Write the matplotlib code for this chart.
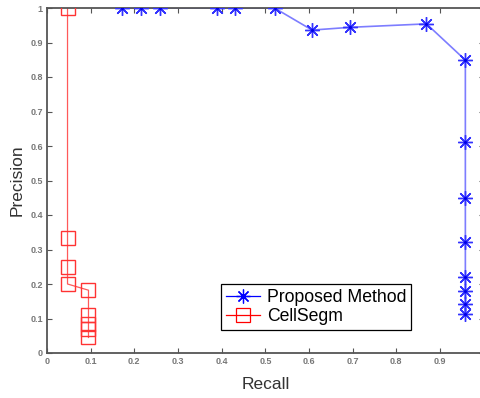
import matplotlib
matplotlib.use("Agg")
import matplotlib.pyplot as plt

plt.rcParams['font.family'] = ['Liberation Sans', 'DejaVu Sans']

proposed_recall = [0.172, 0.215, 0.259, 0.389, 0.430, 0.521, 0.607, 0.694, 0.869,
                   0.958, 0.958, 0.958, 0.958, 0.958, 0.958, 0.958, 0.958]
proposed_precision = [1.0, 1.0, 1.0, 1.0, 1.0, 1.0, 0.936, 0.944, 0.954,
                      0.849, 0.612, 0.450, 0.323, 0.219, 0.181, 0.141, 0.112]

cellsegm_recall = [0.047, 0.047, 0.047, 0.047, 0.095, 0.095, 0.095, 0.095, 0.095]
cellsegm_precision = [1.0, 0.333, 0.25, 0.20, 0.182, 0.111, 0.083, 0.071, 0.045]

xticks = [0, 0.1, 0.2, 0.3, 0.4, 0.5, 0.6, 0.7, 0.8, 0.9]
xticklabels = ['0', '0.1', '0.2', '0.3', '0.4', '0.5', '0.6', '0.7', '0.8', '0.9']
yticks = [0, 0.1, 0.2, 0.3, 0.4, 0.5, 0.6, 0.7, 0.8, 0.9, 1.0]
yticklabels = ['0', '0.1', '0.2', '0.3', '0.4', '0.5', '0.6', '0.7', '0.8', '0.9', '1']

fig = plt.figure(figsize=(4.81, 3.98), dpi=100)
ax = fig.add_axes([47/481, 45/398, 436.7/481, 345/398])

star = (8, 2, 0)

ax.plot(proposed_recall, proposed_precision, color=(0.4, 0.4, 1.0), lw=1.2, alpha=0.85, zorder=2)
ax.plot(proposed_recall, proposed_precision, linestyle='none', marker=star, ms=10.5,
        mec=(0.2, 0.2, 1.0), mew=1.0, zorder=3)
ax.plot(proposed_recall, proposed_precision, linestyle='none', marker='o', ms=2.2,
        mfc=(0, 0, 0.9), mec='none', zorder=4)

ax.plot(cellsegm_recall, cellsegm_precision, color=(1.0, 0.35, 0.35), lw=0.9, zorder=2)
ax.plot(cellsegm_recall, cellsegm_precision, linestyle='none', marker='s', ms=9.5,
        mfc='none', mec=(1.0, 0.2, 0.2), mew=1.0, zorder=3)

h1, = ax.plot([], [], color='blue', lw=0.9, marker=star, ms=10, mew=0.9)
h2, = ax.plot([], [], color='red', lw=0.9, marker='s', ms=9.5, mfc='none', mew=0.9)
leg = ax.legend([h1, h2], ['Proposed Method', 'CellSegm'],
                loc='lower left', bbox_to_anchor=(0.398, 0.066),
                fontsize=12.7, frameon=True, fancybox=False, framealpha=1,
                edgecolor='black', handlelength=1.9, handletextpad=0.4,
                borderpad=0.3, labelspacing=0.12, borderaxespad=0)
leg.get_frame().set_linewidth(0.9)

ax.set_xlim(0, 1)
ax.set_ylim(0, 1)
ax.set_xticks(xticks)
ax.set_xticklabels(xticklabels)
ax.set_yticks(yticks)
ax.set_yticklabels(yticklabels)

gray = '#555555'
for s in ax.spines.values():
    s.set_color(gray)
    s.set_linewidth(1.3)
ax.tick_params(direction='in', length=3.5, width=0.8, colors=gray, labelsize=6.5,
               top=True, right=True, pad=3)
for lbl in ax.get_xticklabels() + ax.get_yticklabels():
    lbl.set_fontweight('bold')
    lbl.set_color('#777777')

ax.set_xlabel('Recall', fontsize=12.5, color='#333333', labelpad=8)
ax.set_ylabel('Precision', fontsize=12.5, color='#333333', labelpad=4)

fig.savefig('out.png', dpi=100)
